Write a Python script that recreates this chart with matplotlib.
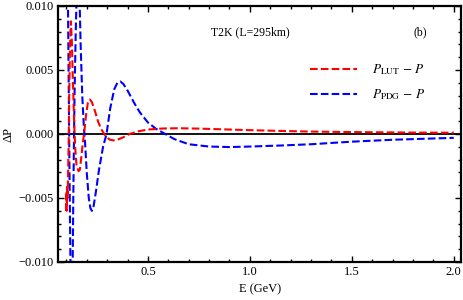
import matplotlib
matplotlib.use("Agg")
import matplotlib.pyplot as plt
from matplotlib.ticker import MultipleLocator, FuncFormatter

plt.rcParams['font.family'] = ['Liberation Serif', 'DejaVu Serif']
plt.rcParams['mathtext.fontset'] = 'stix'
plt.rcParams['lines.scale_dashes'] = False

# Red: P_LUT - P
E_lut = [0.098, 0.100, 0.102, 0.104, 0.106, 0.108, 0.111, 0.114, 0.118, 0.122,
         0.127, 0.132, 0.138, 0.143, 0.150, 0.160, 0.166, 0.172, 0.180, 0.188,
         0.196, 0.205, 0.215, 0.225, 0.240, 0.255, 0.270, 0.286, 0.300, 0.315,
         0.330, 0.350, 0.380, 0.410, 0.450, 0.500, 0.575, 0.650, 0.750, 0.900,
         1.000, 1.150, 1.300, 1.500, 1.800, 2.000]
dP_lut = [-0.0060, -0.0045, -0.0060, -0.0040, -0.0050, -0.0035, -0.0010, 0.0030, 0.0070, 0.0088,
          0.0072, 0.0042, 0.0010, -0.0010, -0.0025, -0.0029, -0.0028, -0.0020, -0.0008, 0.0002,
          0.0014, 0.0024, 0.0027, 0.0025, 0.0018, 0.0010, 0.0004, 0.0000, -0.0003, -0.00045,
          -0.0005, -0.00045, -0.00025, 0.0000, 0.0002, 0.00035, 0.00043, 0.00045, 0.00042, 0.00035,
          0.00030, 0.00024, 0.00019, 0.00015, 0.00011, 0.00010]

# Blue: P_PDG - P
E_pdg = [0.104, 0.108, 0.112, 0.116, 0.120, 0.125, 0.130, 0.134, 0.140, 0.146,
         0.152, 0.158, 0.164, 0.170, 0.178, 0.186, 0.191, 0.200, 0.210, 0.218,
         0.225, 0.232, 0.245, 0.260, 0.280, 0.297, 0.315, 0.335, 0.350, 0.365,
         0.380, 0.400, 0.430, 0.460, 0.500, 0.540, 0.585, 0.630, 0.700, 0.800,
         0.900, 1.000, 1.150, 1.300, 1.500, 1.700, 2.000]
dP_pdg = [0.0300, 0.0100, 0.0030, -0.0040, -0.0100, -0.0140, -0.0120, -0.0050, 0.0030, 0.0080,
          0.0120, 0.0130, 0.0110, 0.0070, 0.0030, 0.0005, -0.0005, -0.0030, -0.0050, -0.0058,
          -0.0060, -0.0058, -0.0045, -0.0028, -0.0010, 0.0000, 0.0020, 0.0035, 0.0040, 0.0041,
          0.0039, 0.0034, 0.0025, 0.0017, 0.0009, 0.0004, 0.0000, -0.0004, -0.0008, -0.00098,
          -0.00102, -0.00098, -0.0009, -0.0008, -0.0006, -0.00045, -0.0003]

xticks = [0.5, 1.0, 1.5, 2.0]
yticks = [-0.010, -0.005, 0.000, 0.005, 0.010]

fig = plt.figure(figsize=(4.63, 3.0), dpi=100)
ax = fig.add_axes([58/463, 1-262/300, (461.5-58)/463, (262-6)/300])

ax.axhline(0, color='black', lw=1.3, zorder=1)
l1, = ax.plot(E_lut, dP_lut, color='#ff0000', lw=1.5, dashes=(5.5, 2.3),
              label=r'$P_{\rm LUT}\,-\,P$', zorder=3)
l2, = ax.plot(E_pdg, dP_pdg, color='#0000ff', lw=1.5, dashes=(5.5, 2.3),
              label=r'$P_{\rm PDG}\,-\,P$', zorder=2)

ax.set_xlim(0.059, 2.038)
ax.set_ylim(-0.010, 0.010)
ax.set_xticks(xticks)
ax.set_yticks(yticks)
ax.xaxis.set_major_formatter(FuncFormatter(lambda v, p: f'{v:.1f}'.replace('-', '\u2212')))
ax.yaxis.set_major_formatter(FuncFormatter(
    lambda v, p: ('0.000' if abs(v) < 1e-12 else f'{v:.3f}'.replace('-', '\u2212'))))
ax.xaxis.set_minor_locator(MultipleLocator(0.1))
ax.yaxis.set_minor_locator(MultipleLocator(0.001))
ax.tick_params(which='both', direction='in', top=True, right=True, labelsize=9, width=1.0)
ax.tick_params(which='major', length=4, pad=3)
ax.tick_params(which='minor', length=2.2)
for s in ax.spines.values():
    s.set_linewidth(1.6)

ax.set_xlabel('E (GeV)', fontsize=9, labelpad=4)
ax.set_ylabel('\u0394P', fontsize=9)
ax.yaxis.set_label_coords(-0.108, 0.5)

ax.text(0.379, 0.885, 'T2K (L=295km)', transform=ax.transAxes, fontsize=8.5)
ax.text(0.881, 0.885, '(b)', transform=ax.transAxes, fontsize=8.5)

leg = ax.legend(handles=[l1, l2], loc='upper left', bbox_to_anchor=(0.6245, 0.78),
                frameon=False, fontsize=9.5, handlelength=3.56, handletextpad=1.14,
                labelspacing=0.8, borderaxespad=0, borderpad=0)

fig.savefig('out.png', dpi=100)
